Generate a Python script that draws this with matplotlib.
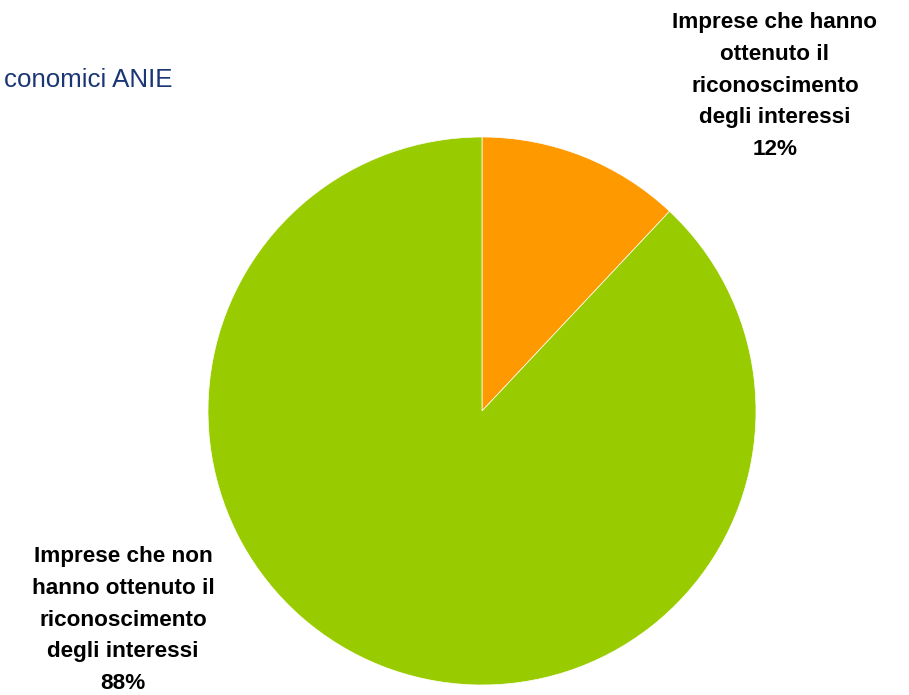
import matplotlib.pyplot as plt

# Data
labels = ["Imprese che hanno\nottenuto il\nriconoscimento\ndegli interessi\n12%",
          "Imprese che non\nhanno ottenuto il\nriconoscimento\ndegli interessi\n88%"]
shares = [12, 88]
colors = ["#FF9900", "#99CC00"]
source = "conomici ANIE"

W, H = 909, 695
fig = plt.figure(figsize=(W / 100, H / 100), dpi=100)
plt.rcParams['font.family'] = ['Liberation Sans', 'DejaVu Sans']

cx, cy, r = 482, 411, 274
ax = fig.add_axes([(cx - r) / W, (H - cy - r) / H, 2 * r / W, 2 * r / H])
ax.pie(shares, colors=colors, startangle=90, counterclock=False,
       wedgeprops=dict(edgecolor="white", linewidth=0.5))
ax.set_xlim(-1, 1)
ax.set_ylim(-1, 1)
ax.set_aspect("equal")
ax.axis("off")

fig.text(775 / W, 1 - 86 / H, labels[0], ha="center", va="center",
         fontsize=16.2, fontweight="bold", linespacing=1.68)
fig.text(123 / W, 1 - 620 / H, labels[1], ha="center", va="center",
         fontsize=16.2, fontweight="bold", linespacing=1.68)

fig.text(172 / W, 1 - 80 / H, source,
         ha="right", va="center", fontsize=18.6, color="#1A3675")

fig.savefig("out.png", dpi=100)
